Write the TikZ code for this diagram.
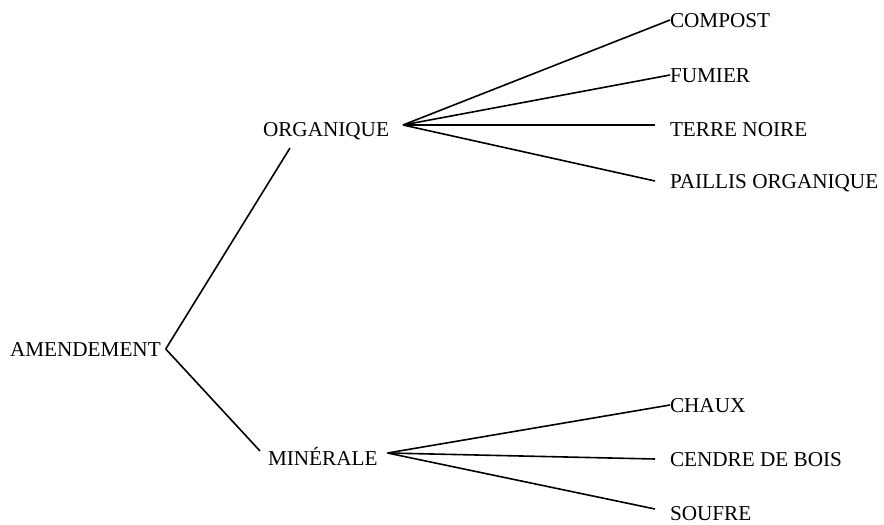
\documentclass[tikz,border=0pt]{standalone}
\usepackage{fontspec}
\setmainfont{Liberation Serif}
\usepackage{tikz}

\begin{document}
\begin{tikzpicture}[x=1pt, y=-1pt,
    word/.style={inner sep=0pt, outer sep=0pt, anchor=base west,
      text height=14pt, text depth=0pt, font=\fontsize{21.2}{25}\selectfont},
    branch/.style={line width=1.6pt}]
    \useasboundingbox (0,0) rectangle (884,525);
    % Root and second level
    \node[word] (amend) at (10,356) {AMENDEMENT};
    \node[word] (org) at (263,136) {ORGANIQUE};
    \node[word] (min) at (268,465) {MINÉRALE};
    % Organic amendments
    \node[word] (compost) at (670,27) {COMPOST};
    \node[word] (fumier) at (670,82) {FUMIER};
    \node[word] (terre) at (670,136) {TERRE NOIRE};
    \node[word] (paillis) at (670,188) {PAILLIS ORGANIQUE};
    % Mineral amendments
    \node[word] (chaux) at (670,412) {CHAUX};
    \node[word] (cendre) at (670,466) {CENDRE DE BOIS};
    \node[word] (soufre) at (670,520) {SOUFRE};
    % Branch points
    \coordinate (rootj) at ([xshift=5pt]amend.east);
    \coordinate (orgj) at ([xshift=14pt,yshift=4pt]org.east);
    \coordinate (minj) at ([xshift=10pt,yshift=5pt]min.east);
    % Branches
    \draw[branch] (rootj) -- ([xshift=27pt,yshift=-12pt]org.south west);
    \draw[branch] (rootj) -- ([xshift=-8pt]min.north west);
    \draw[branch] (orgj) -- (compost.west);
    \draw[branch] (orgj) -- (fumier.west);
    \draw[branch] (orgj) -- ([xshift=-15pt,yshift=4pt]terre.west);
    \draw[branch] (orgj) -- ([xshift=-15pt]paillis.west);
    \draw[branch] (minj) -- (chaux.west);
    \draw[branch] (minj) -- ([xshift=-15pt]cendre.west);
    \draw[branch] (minj) -- ([xshift=-15pt,yshift=4pt]soufre.west);
\end{tikzpicture}
\end{document}
